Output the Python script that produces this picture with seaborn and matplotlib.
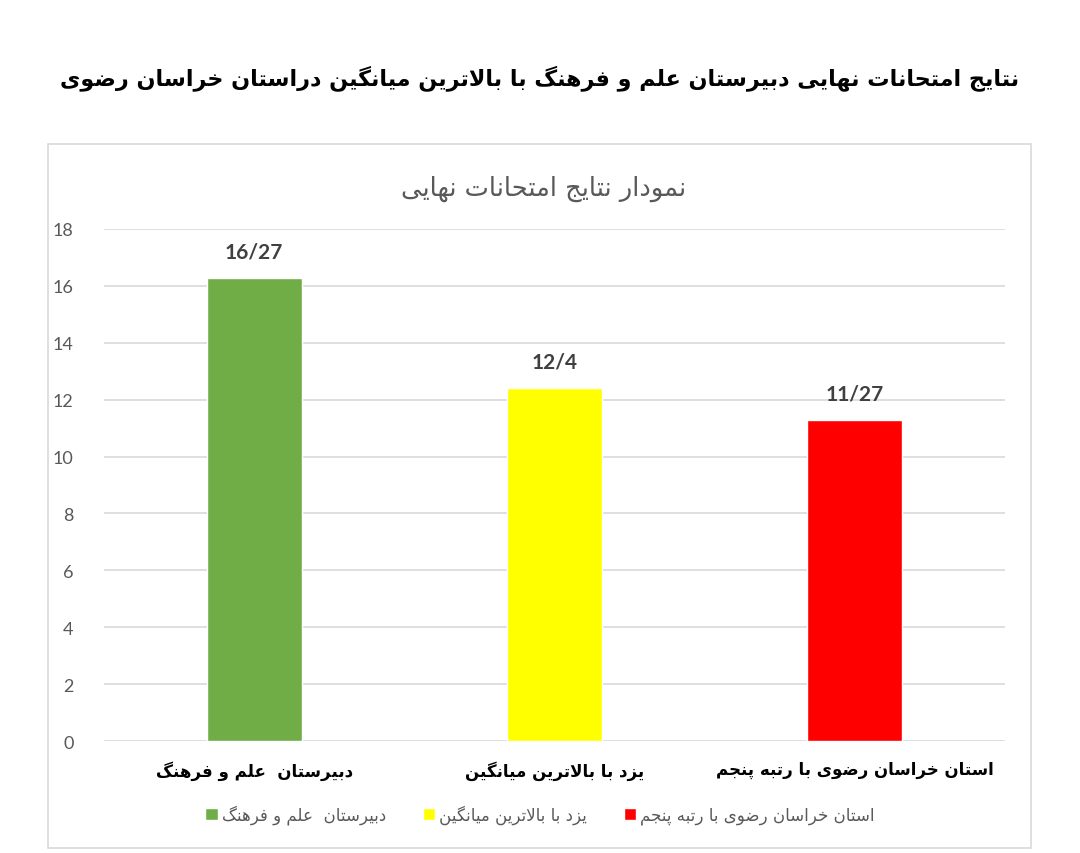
import matplotlib
matplotlib.use('Agg')
import matplotlib.pyplot as plt
import seaborn as sns
from matplotlib.patches import Rectangle, Patch

# data
categories = ['دبیرستان  علم و فرهنگ', 'یزد با بالاترین میانگین', 'استان خراسان رضوی با رتبه پنجم']
values = [16.27, 12.4, 11.27]
value_labels = ['16/27', '12/4', '11/27']
colors = ['#70ad47', '#ffff00', '#ff0000']
title = 'نتایج امتحانات نهایی دبیرستان علم و فرهنگ با بالاترین میانگین دراستان خراسان رضوی'
chart_title = 'نمودار نتایج امتحانات نهایی'
y_ticks = [0, 2, 4, 6, 8, 10, 12, 14, 16, 18]

# simple persian shaping (matplotlib has no text shaping / bidi)
FORMS = {
    'ا': ('\uFE8D', '\uFE8E'), 'آ': ('\uFE81', '\uFE82'),
    'د': ('\uFEA9', '\uFEAA'), 'ذ': ('\uFEAB', '\uFEAC'),
    'ر': ('\uFEAD', '\uFEAE'), 'ز': ('\uFEAF', '\uFEB0'),
    'ژ': ('\uFB8A', '\uFB8B'), 'و': ('\uFEED', '\uFEEE'),
    'ب': ('\uFE8F', '\uFE90', '\uFE91', '\uFE92'),
    'ت': ('\uFE95', '\uFE96', '\uFE97', '\uFE98'),
    'ث': ('\uFE99', '\uFE9A', '\uFE9B', '\uFE9C'),
    'ج': ('\uFE9D', '\uFE9E', '\uFE9F', '\uFEA0'),
    'ح': ('\uFEA1', '\uFEA2', '\uFEA3', '\uFEA4'),
    'خ': ('\uFEA5', '\uFEA6', '\uFEA7', '\uFEA8'),
    'س': ('\uFEB1', '\uFEB2', '\uFEB3', '\uFEB4'),
    'ش': ('\uFEB5', '\uFEB6', '\uFEB7', '\uFEB8'),
    'ص': ('\uFEB9', '\uFEBA', '\uFEBB', '\uFEBC'),
    'ض': ('\uFEBD', '\uFEBE', '\uFEBF', '\uFEC0'),
    'ط': ('\uFEC1', '\uFEC2', '\uFEC3', '\uFEC4'),
    'ظ': ('\uFEC5', '\uFEC6', '\uFEC7', '\uFEC8'),
    'ع': ('\uFEC9', '\uFECA', '\uFECB', '\uFECC'),
    'غ': ('\uFECD', '\uFECE', '\uFECF', '\uFED0'),
    'ف': ('\uFED1', '\uFED2', '\uFED3', '\uFED4'),
    'ق': ('\uFED5', '\uFED6', '\uFED7', '\uFED8'),
    'ل': ('\uFEDD', '\uFEDE', '\uFEDF', '\uFEE0'),
    'م': ('\uFEE1', '\uFEE2', '\uFEE3', '\uFEE4'),
    'ن': ('\uFEE5', '\uFEE6', '\uFEE7', '\uFEE8'),
    'ه': ('\uFEE9', '\uFEEA', '\uFEEB', '\uFEEC'),
    'ی': ('\uFBFC', '\uFBFD', '\uFBFE', '\uFBFF'),
    'ک': ('\uFB8E', '\uFB8F', '\uFB90', '\uFB91'),
    'گ': ('\uFB92', '\uFB93', '\uFB94', '\uFB95'),
    'پ': ('\uFB56', '\uFB57', '\uFB58', '\uFB59'),
    'چ': ('\uFB7A', '\uFB7B', '\uFB7C', '\uFB7D'),
}


def fa(text):
    out = []
    i = 0
    n = len(text)
    while i < n:
        c = text[i]
        if c not in FORMS:
            out.append(c)
            i += 1
            continue
        prev = text[i - 1] if i > 0 else ''
        join_prev = prev in FORMS and len(FORMS[prev]) == 4
        # lam-alef ligature
        if c == 'ل' and i + 1 < n and text[i + 1] == 'ا':
            out.append('\uFEFC' if join_prev else '\uFEFB')
            i += 2
            continue
        nxt = text[i + 1] if i + 1 < n else ''
        join_next = len(FORMS[c]) == 4 and nxt in FORMS
        f = FORMS[c]
        if join_prev and join_next:
            out.append(f[3])
        elif join_prev:
            out.append(f[1])
        elif join_next:
            out.append(f[2])
        else:
            out.append(f[0])
        i += 1
    return ''.join(out)[::-1]


sns.set_theme(style='white')
plt.rcParams['font.family'] = ['DejaVu Sans']

fig = plt.figure(figsize=(10.8, 8.54), dpi=100)
ax = fig.add_axes([0.0963, 0.1311, 0.8343, 0.5996])

sns.barplot(x=categories, y=values, hue=categories, palette=colors,
            width=0.316, saturation=1, legend=False, ax=ax)

ax.set_ylim(0, 18)
ax.set_xlim(-0.5, 2.5)
ax.set_yticks(y_ticks)
ax.yaxis.grid(True, color='#d9d9d9', linewidth=1.2)
ax.set_axisbelow(True)
for s in ax.spines.values():
    s.set_visible(False)
ax.tick_params(axis='y', length=0, pad=22, labelsize=13, labelcolor='#595959')
ax.tick_params(axis='x', length=0, pad=14)
ax.set_xticks(range(len(categories)))
ax.set_xticklabels([fa(c) for c in categories], fontsize=12, fontweight='bold', color='black')
for lbl in ax.get_yticklabels():
    lbl.set_family(['Lato', 'DejaVu Sans'])
ax.set_xlabel('')
ax.set_ylabel('')

for i, (v, lab) in enumerate(zip(values, value_labels)):
    ax.annotate(lab, (i, v), xytext=(0, 12), textcoords='offset points',
                ha='center', va='bottom', fontsize=15, fontweight='bold',
                color='#404040', family=['Lato', 'DejaVu Sans'])

# outer chart border
fig.patches.append(Rectangle((0.0444, 0.0059), 0.910, 0.824, transform=fig.transFigure,
                             fill=False, edgecolor='#d9d9d9', linewidth=1.2))

fig.text(0.5, 0.909, fa(title), ha='center', va='center', fontsize=16,
         fontweight='bold', color='black')
fig.text(0.503, 0.779, fa(chart_title), ha='center', va='center', fontsize=18.5,
         color='#595959')

handles = [Patch(facecolor=colors[i], label=fa(categories[i])) for i in range(3)]
leg = fig.legend(handles=handles, loc='center', bbox_to_anchor=(0.5, 0.045), ncol=3,
                 frameon=False, markerfirst=True, fontsize=12, handlelength=0.75,
                 handleheight=0.75, handletextpad=0.25, columnspacing=2.2)
for t in leg.get_texts():
    t.set_color('#595959')

fig.savefig('out.png', dpi=100, facecolor='white')
